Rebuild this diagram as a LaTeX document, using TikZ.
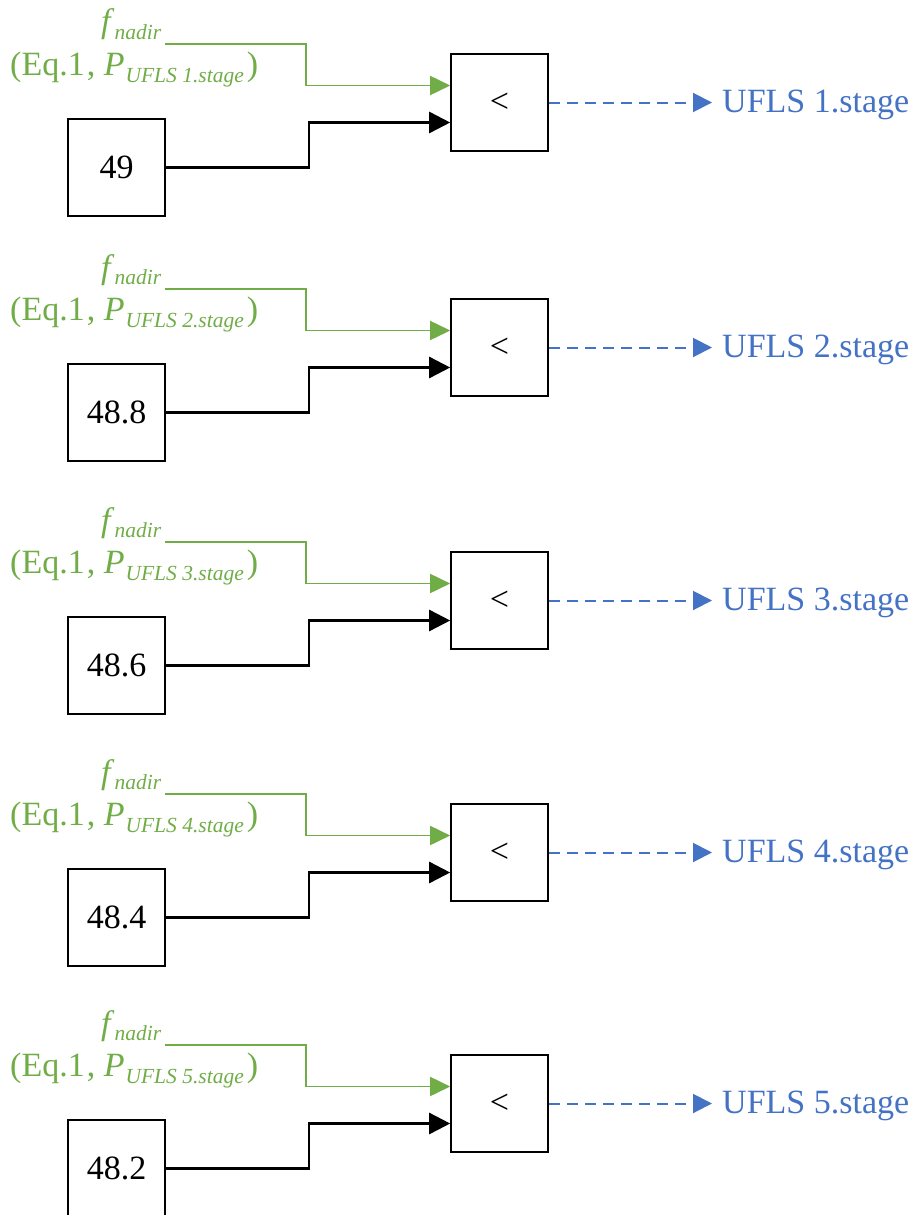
\documentclass[tikz,border=0pt]{standalone}
\usepackage{fontspec}
\setmainfont{Liberation Serif}
\usetikzlibrary{arrows.meta}
\definecolor{gr}{RGB}{112,173,71}
\definecolor{bl}{RGB}{68,114,196}
\newcommand{\mainsz}{\fontsize{34}{40}\selectfont}
\newcommand{\subsz}{\fontsize{21.5}{24}\selectfont}
\begin{document}
\begin{tikzpicture}[x=1pt,y=-1pt,
  cmpbox/.style={draw=black,line width=1.6pt,minimum width=97pt,minimum height=97pt,inner sep=0pt,font=\mainsz},
  valbox/.style={draw=black,line width=1.6pt,minimum width=97pt,minimum height=97pt,inner sep=0pt,font=\mainsz},
  outlbl/.style={text=bl,inner sep=0pt,font=\mainsz},
  grlbl/.style={text=gr,inner sep=0pt,font=\mainsz},
  greenline/.style={draw=gr,line width=1.7pt,-{Triangle[length=20pt,width=19pt]}},
  blackline/.style={draw=black,line width=2.6pt,-{Triangle[length=21pt,width=21pt]}},
  blueline/.style={draw=bl,line width=2pt,dash pattern=on 11pt off 7pt,-{Triangle[length=19pt,width=19pt]}}]
\useasboundingbox (0,0) rectangle (914,1215);
\foreach \i/\dy/\v in {1/0/49, 2/245/48.8, 3/498/48.6, 4/750/48.4, 5/1001/48.2} {
  \node[cmpbox] (cmp\i) at (499.5, 102.5+\dy) {<};
  \node[valbox] (val\i) at (116.5, 167.5+\dy) {\v};
  \node[outlbl, anchor=base west] (out\i) at (722, 112+\dy) {UFLS \i.stage};
  \node[grlbl, anchor=base west] (f\i) at (101, 33+\dy) {\textit{f}\raisebox{-0.2em}{\subsz\textit{nadir}}};
  \node[grlbl, anchor=base west] (eq\i) at (10, 75+\dy) {(Eq.1\kern2pt, \textit{P}\kern1pt\raisebox{-0.22em}{\subsz\textit{UFLS \i.stage}}\kern3pt)};
  \coordinate (g\i) at (165, 44+\dy);
  \draw[greenline] (g\i) -- (306, 44+\dy) |- ([yshift=17pt]cmp\i.west);
  \draw[blackline] (val\i.east) -- (309, 167.5+\dy) |- ([yshift=-20pt]cmp\i.west);
  \draw[blueline] (cmp\i.east) -- ([xshift=-10pt]cmp\i.east -| out\i.west);
}
\end{tikzpicture}
\end{document}
